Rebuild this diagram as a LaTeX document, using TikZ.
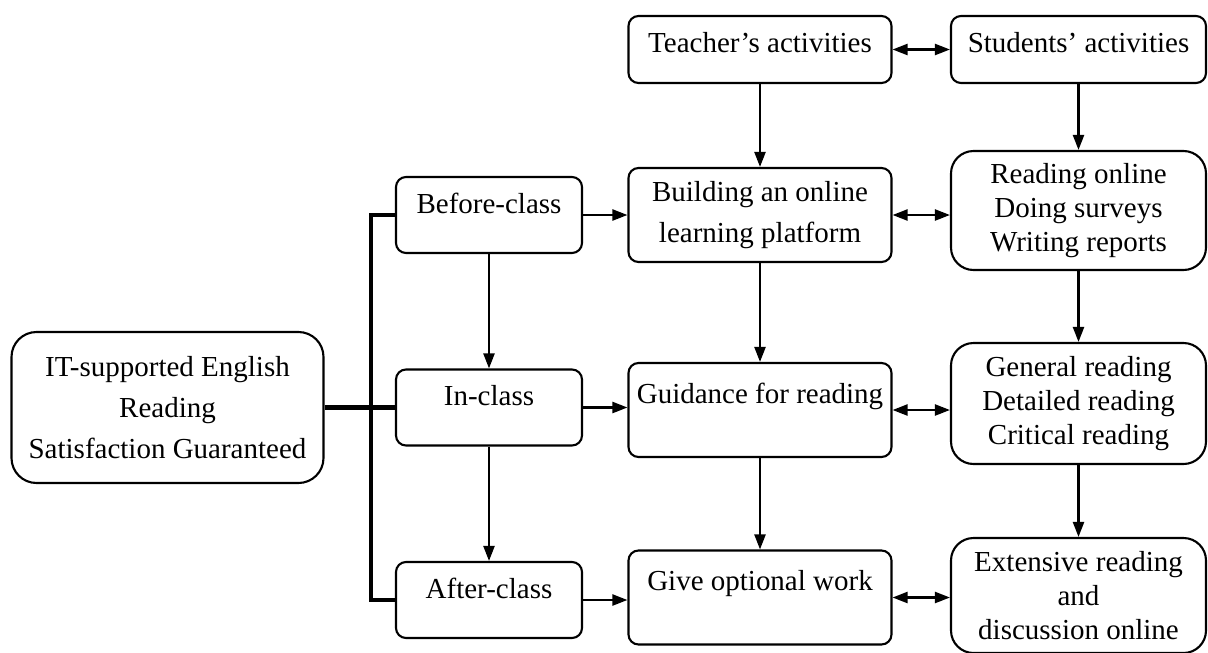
\documentclass[tikz,border=0pt]{standalone}
\usepackage{fontspec}
\setmainfont{Liberation Serif}
\usetikzlibrary{arrows.meta}

\begin{document}
\begin{tikzpicture}[
    box/.style={draw,line width=1.2pt,rounded corners=0.2cm,align=center,inner sep=0pt,
      font=\fontsize{16.5}{19.5}\selectfont},
    stage/.style={box,minimum width=3.72cm,minimum height=1.52cm},
    task/.style={box,minimum width=5.26cm,minimum height=1.88cm},
    work/.style={box,rounded corners=0.45cm,minimum width=5.1cm},
    link/.style={-{Triangle[length=0.3cm,width=0.22cm]},line width=1.3pt},
    both/.style={{Triangle[length=0.3cm,width=0.22cm]}-{Triangle[length=0.3cm,width=0.22cm]},line width=1.3pt},
    bar/.style={line width=2.4pt}]
    \useasboundingbox (0,0) rectangle (24.16,-13.04);
    \draw (3.35,-8.15) node[box,rounded corners=0.5cm,minimum width=6.24cm,minimum height=3.02cm] (main)
      {IT-supported English\\[4pt]Reading\\[4pt]Satisfaction Guaranteed};
    \draw (9.78,-4.3) node[stage] (before) {Before-class\\[-5.7pt]\mbox{}};
    \draw (9.78,-8.15) node[stage] (inclass) {In-class\\[-5.7pt]\mbox{}};
    \draw (9.78,-12.0) node[stage] (after) {After-class\\[-5.7pt]\mbox{}};
    \draw (15.2,-0.99) node[task,minimum height=1.34cm] (teacher) {Teacher's activities\\[-12pt]\mbox{}};
    \draw (21.57,-0.99) node[work,rounded corners=0.2cm,minimum height=1.34cm] (students) {Students' activities\\[-12pt]\mbox{}};
    \draw (15.2,-4.3) node[task] (build) {Building an online\\[4pt]learning platform};
    \draw (21.57,-4.21) node[work,minimum height=2.38cm] (online) {Reading online\\Doing surveys\\Writing reports};
    \draw (15.2,-8.2) node[task] (guide) {Guidance for reading\\\mbox{}};
    \draw (21.57,-8.07) node[work,minimum height=2.42cm] (general) {General reading\\Detailed reading\\Critical reading};
    \draw (15.2,-11.95) node[task] (give) {Give optional work\\\mbox{}};
    \draw (21.57,-11.91) node[work,minimum height=2.3cm] (extensive) {Extensive reading\\and\\discussion online};
    \draw[bar] (main) -- (inclass);
    \draw[bar] (before.west) -- ++(-0.48,0) |- (after.west);
    \draw[link] (before) -- (inclass);
    \draw[link] (inclass) -- (after);
    \draw[link] (before) -- (before -| build.west);
    \draw[link] (inclass) -- (inclass -| guide.west);
    \draw[link] (after) -- (after -| give.west);
    \draw[both] (teacher) -- (students);
    \draw[both] (build) -- (build -| online.west);
    \draw[both] (guide) -- (guide -| general.west);
    \draw[both] (give) -- (give -| extensive.west);
    \draw[link] (teacher) -- (teacher |- build.north);
    \draw[link] (build) -- (build |- guide.north);
    \draw[link] (guide) -- (guide |- give.north);
    \draw[link] (students) -- (students |- online.north);
    \draw[link] (online) -- (online |- general.north);
    \draw[link] (general) -- (general |- extensive.north);
\end{tikzpicture}
\end{document}
